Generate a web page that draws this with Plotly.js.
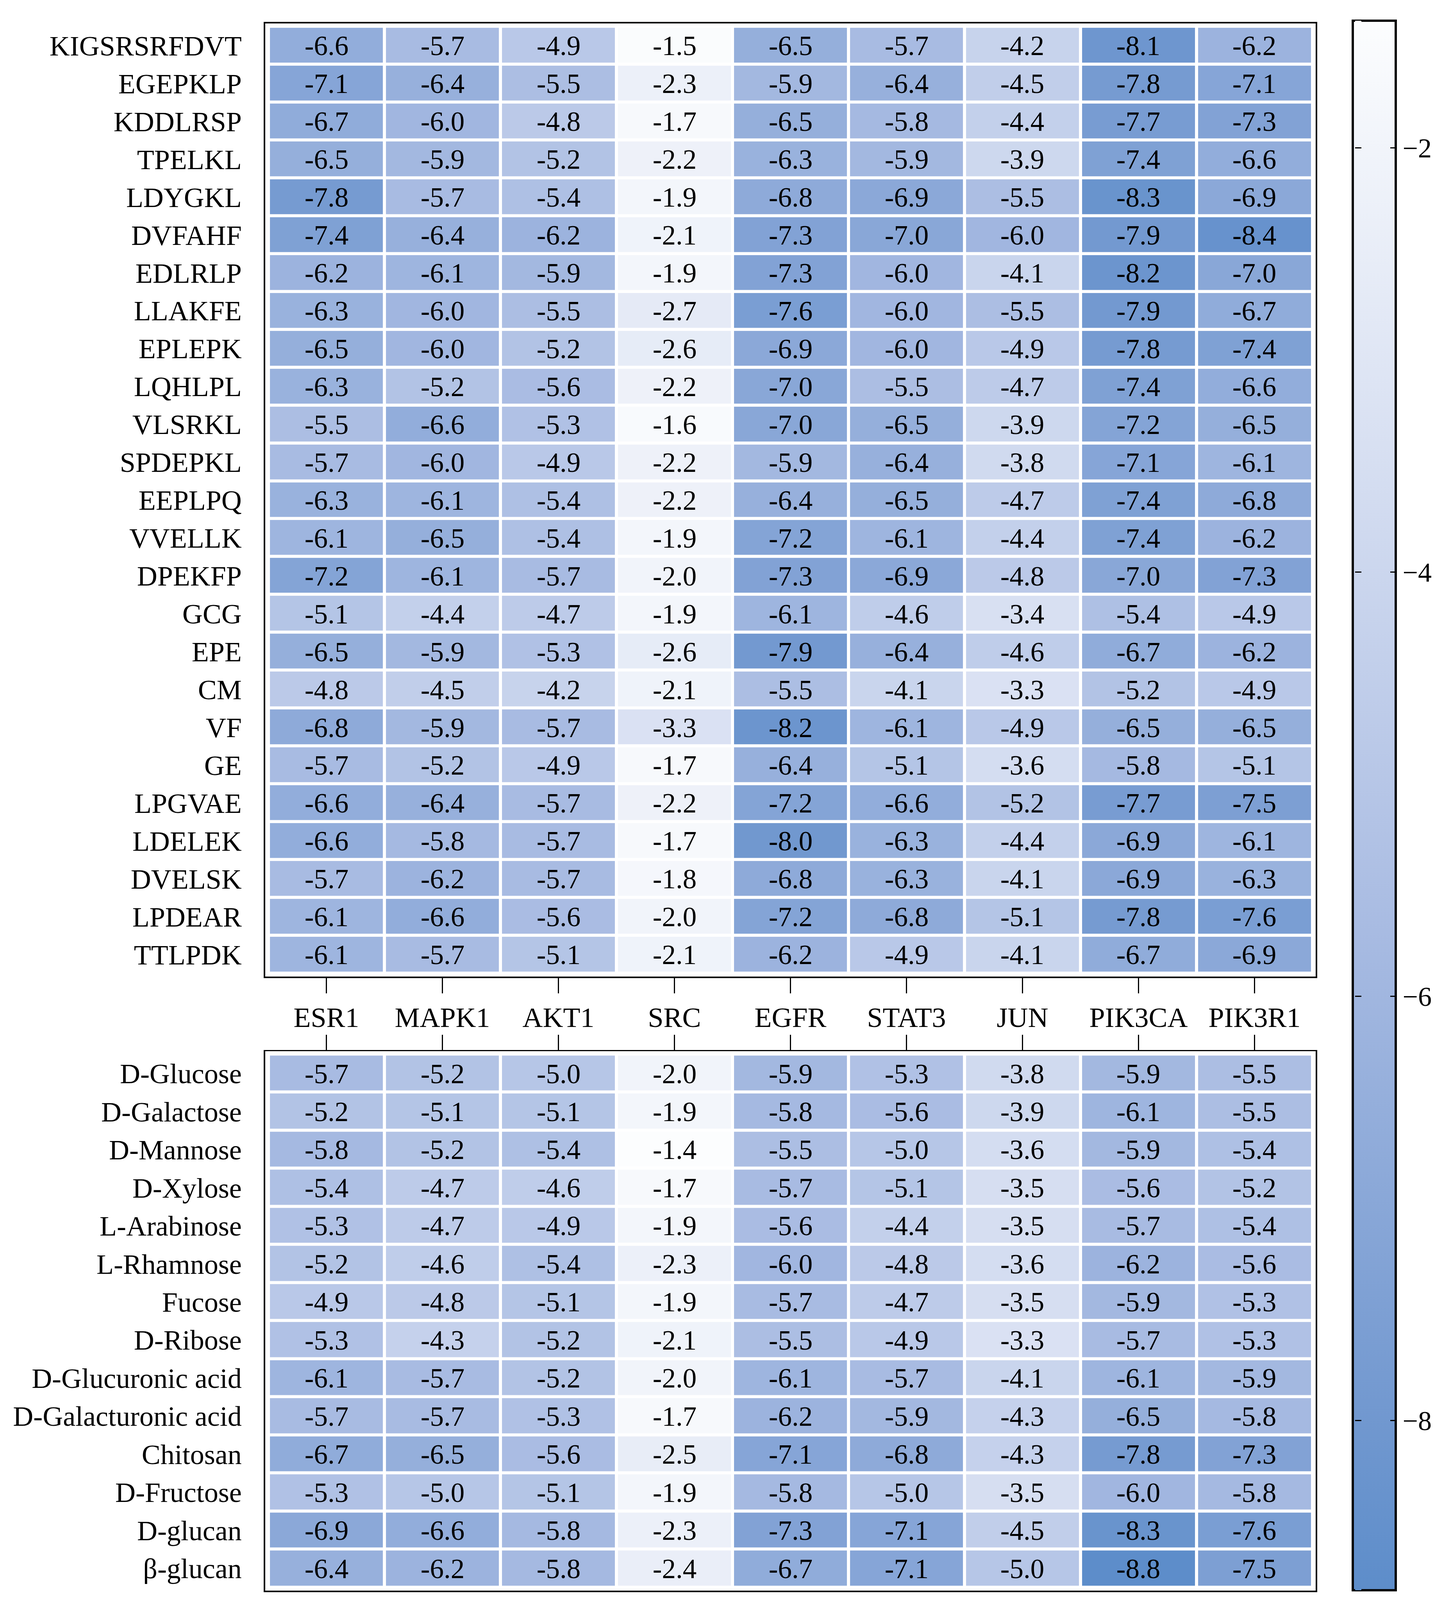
<!DOCTYPE html>
<html>
<head>
<meta charset="utf-8">
<script src="https://cdn.plot.ly/plotly-3.0.1.min.js"></script>
<style>html,body{margin:0;padding:0;background:#fff;overflow:hidden;}#chart{width:100vw;height:100vh;}</style>
</head>
<body>
<div id="chart"></div>
<script>
const targets = ["ESR1","MAPK1","AKT1","SRC","EGFR","STAT3","JUN","PIK3CA","PIK3R1"];

const peptides = ["KIGSRSRFDVT","EGEPKLP","KDDLRSP","TPELKL","LDYGKL","DVFAHF","EDLRLP","LLAKFE","EPLEPK","LQHLPL","VLSRKL","SPDEPKL","EEPLPQ","VVELLK","DPEKFP","GCG","EPE","CM","VF","GE","LPGVAE","LDELEK","DVELSK","LPDEAR","TTLPDK"];
const peptideScores = [
  [-6.6,-5.7,-4.9,-1.5,-6.5,-5.7,-4.2,-8.1,-6.2],
  [-7.1,-6.4,-5.5,-2.3,-5.9,-6.4,-4.5,-7.8,-7.1],
  [-6.7,-6.0,-4.8,-1.7,-6.5,-5.8,-4.4,-7.7,-7.3],
  [-6.5,-5.9,-5.2,-2.2,-6.3,-5.9,-3.9,-7.4,-6.6],
  [-7.8,-5.7,-5.4,-1.9,-6.8,-6.9,-5.5,-8.3,-6.9],
  [-7.4,-6.4,-6.2,-2.1,-7.3,-7.0,-6.0,-7.9,-8.4],
  [-6.2,-6.1,-5.9,-1.9,-7.3,-6.0,-4.1,-8.2,-7.0],
  [-6.3,-6.0,-5.5,-2.7,-7.6,-6.0,-5.5,-7.9,-6.7],
  [-6.5,-6.0,-5.2,-2.6,-6.9,-6.0,-4.9,-7.8,-7.4],
  [-6.3,-5.2,-5.6,-2.2,-7.0,-5.5,-4.7,-7.4,-6.6],
  [-5.5,-6.6,-5.3,-1.6,-7.0,-6.5,-3.9,-7.2,-6.5],
  [-5.7,-6.0,-4.9,-2.2,-5.9,-6.4,-3.8,-7.1,-6.1],
  [-6.3,-6.1,-5.4,-2.2,-6.4,-6.5,-4.7,-7.4,-6.8],
  [-6.1,-6.5,-5.4,-1.9,-7.2,-6.1,-4.4,-7.4,-6.2],
  [-7.2,-6.1,-5.7,-2.0,-7.3,-6.9,-4.8,-7.0,-7.3],
  [-5.1,-4.4,-4.7,-1.9,-6.1,-4.6,-3.4,-5.4,-4.9],
  [-6.5,-5.9,-5.3,-2.6,-7.9,-6.4,-4.6,-6.7,-6.2],
  [-4.8,-4.5,-4.2,-2.1,-5.5,-4.1,-3.3,-5.2,-4.9],
  [-6.8,-5.9,-5.7,-3.3,-8.2,-6.1,-4.9,-6.5,-6.5],
  [-5.7,-5.2,-4.9,-1.7,-6.4,-5.1,-3.6,-5.8,-5.1],
  [-6.6,-6.4,-5.7,-2.2,-7.2,-6.6,-5.2,-7.7,-7.5],
  [-6.6,-5.8,-5.7,-1.7,-8.0,-6.3,-4.4,-6.9,-6.1],
  [-5.7,-6.2,-5.7,-1.8,-6.8,-6.3,-4.1,-6.9,-6.3],
  [-6.1,-6.6,-5.6,-2.0,-7.2,-6.8,-5.1,-7.8,-7.6],
  [-6.1,-5.7,-5.1,-2.1,-6.2,-4.9,-4.1,-6.7,-6.9]
];

const sugars = ["D-Glucose","D-Galactose","D-Mannose","D-Xylose","L-Arabinose","L-Rhamnose","Fucose","D-Ribose","D-Glucuronic acid","D-Galacturonic acid","Chitosan","D-Fructose","D-glucan","β-glucan"];
const sugarScores = [
  [-5.7,-5.2,-5.0,-2.0,-5.9,-5.3,-3.8,-5.9,-5.5],
  [-5.2,-5.1,-5.1,-1.9,-5.8,-5.6,-3.9,-6.1,-5.5],
  [-5.8,-5.2,-5.4,-1.4,-5.5,-5.0,-3.6,-5.9,-5.4],
  [-5.4,-4.7,-4.6,-1.7,-5.7,-5.1,-3.5,-5.6,-5.2],
  [-5.3,-4.7,-4.9,-1.9,-5.6,-4.4,-3.5,-5.7,-5.4],
  [-5.2,-4.6,-5.4,-2.3,-6.0,-4.8,-3.6,-6.2,-5.6],
  [-4.9,-4.8,-5.1,-1.9,-5.7,-4.7,-3.5,-5.9,-5.3],
  [-5.3,-4.3,-5.2,-2.1,-5.5,-4.9,-3.3,-5.7,-5.3],
  [-6.1,-5.7,-5.2,-2.0,-6.1,-5.7,-4.1,-6.1,-5.9],
  [-5.7,-5.7,-5.3,-1.7,-6.2,-5.9,-4.3,-6.5,-5.8],
  [-6.7,-6.5,-5.6,-2.5,-7.1,-6.8,-4.3,-7.8,-7.3],
  [-5.3,-5.0,-5.1,-1.9,-5.8,-5.0,-3.5,-6.0,-5.8],
  [-6.9,-6.6,-5.8,-2.3,-7.3,-7.1,-4.5,-8.3,-7.6],
  [-6.4,-6.2,-5.8,-2.4,-6.7,-7.1,-5.0,-8.8,-7.5]
];

const colorbarTicks = [-2,-4,-6,-8];

const FONT = "Liberation Serif, Times New Roman, serif";
// reference canvas size; everything is laid out in reference pixels and scaled to the viewport
const RW = 3717, RH = 4211;
const W = window.innerWidth || RW;
const H = window.innerHeight || RH;
const sx = W / RW, sy = H / RH, s = Math.min(sx, sy);
const px = v => v / RW;
const py = v => 1 - v / RH;

const fmt = m => m.map(r => r.map(v => v.toFixed(1)));

const heatCommon = {
  type: 'heatmap',
  x: targets,
  texttemplate: '%{text}',
  textfont: {family: FONT, size: 73 * s, color: '#000'},
  xgap: 8 * sx, ygap: 8 * sy,
  hoverongaps: false
};

const traces = [
  Object.assign({}, heatCommon, {z: peptideScores, y: peptides, text: fmt(peptideScores), xaxis: 'x', yaxis: 'y', coloraxis: 'coloraxis'}),
  Object.assign({}, heatCommon, {z: sugarScores, y: sugars, text: fmt(sugarScores), xaxis: 'x2', yaxis: 'y2', coloraxis: 'coloraxis2'})
];

const xDom = [px(679), px(3368)];
const frame = {showline: true, linecolor: '#000', linewidth: 4 * s, mirror: true, showgrid: false, zeroline: false, fixedrange: true};

const scale = [
  [0, '#5d8dca'],
  [0.12, '#7399d0'],
  [0.42, '#a8bbe2'],
  [0.73, '#d8e0f2'],
  [1, '#fcfdfe']
];
const cbTop = py(54), cbLen = (4185 - 54) / RH;

const layout = {
  width: W, height: H,
  margin: {l: 0, r: 0, t: 0, b: 0},
  paper_bgcolor: '#fff', plot_bgcolor: '#fff',
  font: {family: FONT, size: 74 * s, color: '#000'},
  showlegend: false,
  xaxis: Object.assign({}, frame, {
    domain: xDom, anchor: 'y', range: [-0.527, 8.527],
    ticks: 'outside', ticklen: 40 * sy, tickwidth: 3 * s, tickcolor: '#000',
    tickfont: {family: FONT, size: 74 * s, color: '#000'}
  }),
  yaxis: Object.assign({}, frame, {
    domain: [py(2570), py(62)], anchor: 'x', range: [24.58, -0.58],
    ticks: '', ticklabelstandoff: 42 * sx,
    tickfont: {family: FONT, size: 74 * s, color: '#000'}
  }),
  xaxis2: Object.assign({}, frame, {
    domain: xDom, anchor: 'y2', side: 'top', range: [-0.527, 8.527],
    ticks: 'outside', ticklen: 40 * sy, tickwidth: 3 * s, tickcolor: '#000',
    showticklabels: false
  }),
  yaxis2: Object.assign({}, frame, {
    domain: [py(4186), py(2767)], anchor: 'x2', range: [13.58, -0.58],
    ticks: '', ticklabelstandoff: 42 * sx,
    tickfont: {family: FONT, size: 74 * s, color: '#000'}
  }),
  // main colour bar: outline, inner ticks on its right edge, labels
  coloraxis: {
    cmin: -8.8, cmax: -1.4,
    colorscale: scale,
    colorbar: {
      x: px(3463), xanchor: 'left', xref: 'paper',
      y: cbTop, yanchor: 'top', yref: 'paper',
      len: cbLen, lenmode: 'fraction',
      thickness: 110 * sx, thicknessmode: 'pixels',
      outlinewidth: 6 * s, outlinecolor: '#000',
      tickvals: colorbarTicks,
      ticks: 'inside', ticklen: 16 * sx, tickwidth: 3 * s, tickcolor: '#000',
      tickprefix: '\u00a0\u00a0\u00a0\u00a0',
      tickfont: {family: FONT, size: 72 * s, color: '#000'},
      xpad: 0, ypad: 0
    }
  },
  // identical thin bar overlapping the left edge of the main bar, only to carry the left inner ticks
  coloraxis2: {
    cmin: -8.8, cmax: -1.4,
    colorscale: scale,
    colorbar: {
      x: px(3469), xanchor: 'left', xref: 'paper',
      y: cbTop, yanchor: 'top', yref: 'paper',
      len: cbLen, lenmode: 'fraction',
      thickness: 16 * sx, thicknessmode: 'pixels',
      outlinewidth: 0,
      tickvals: colorbarTicks,
      ticks: 'inside', ticklen: 16 * sx, tickwidth: 3 * s, tickcolor: '#000',
      showticklabels: false,
      xpad: 0, ypad: 0
    }
  }
};

Plotly.newPlot('chart', traces, layout, {staticPlot: true, displayModeBar: false});
</script>
</body>
</html>
